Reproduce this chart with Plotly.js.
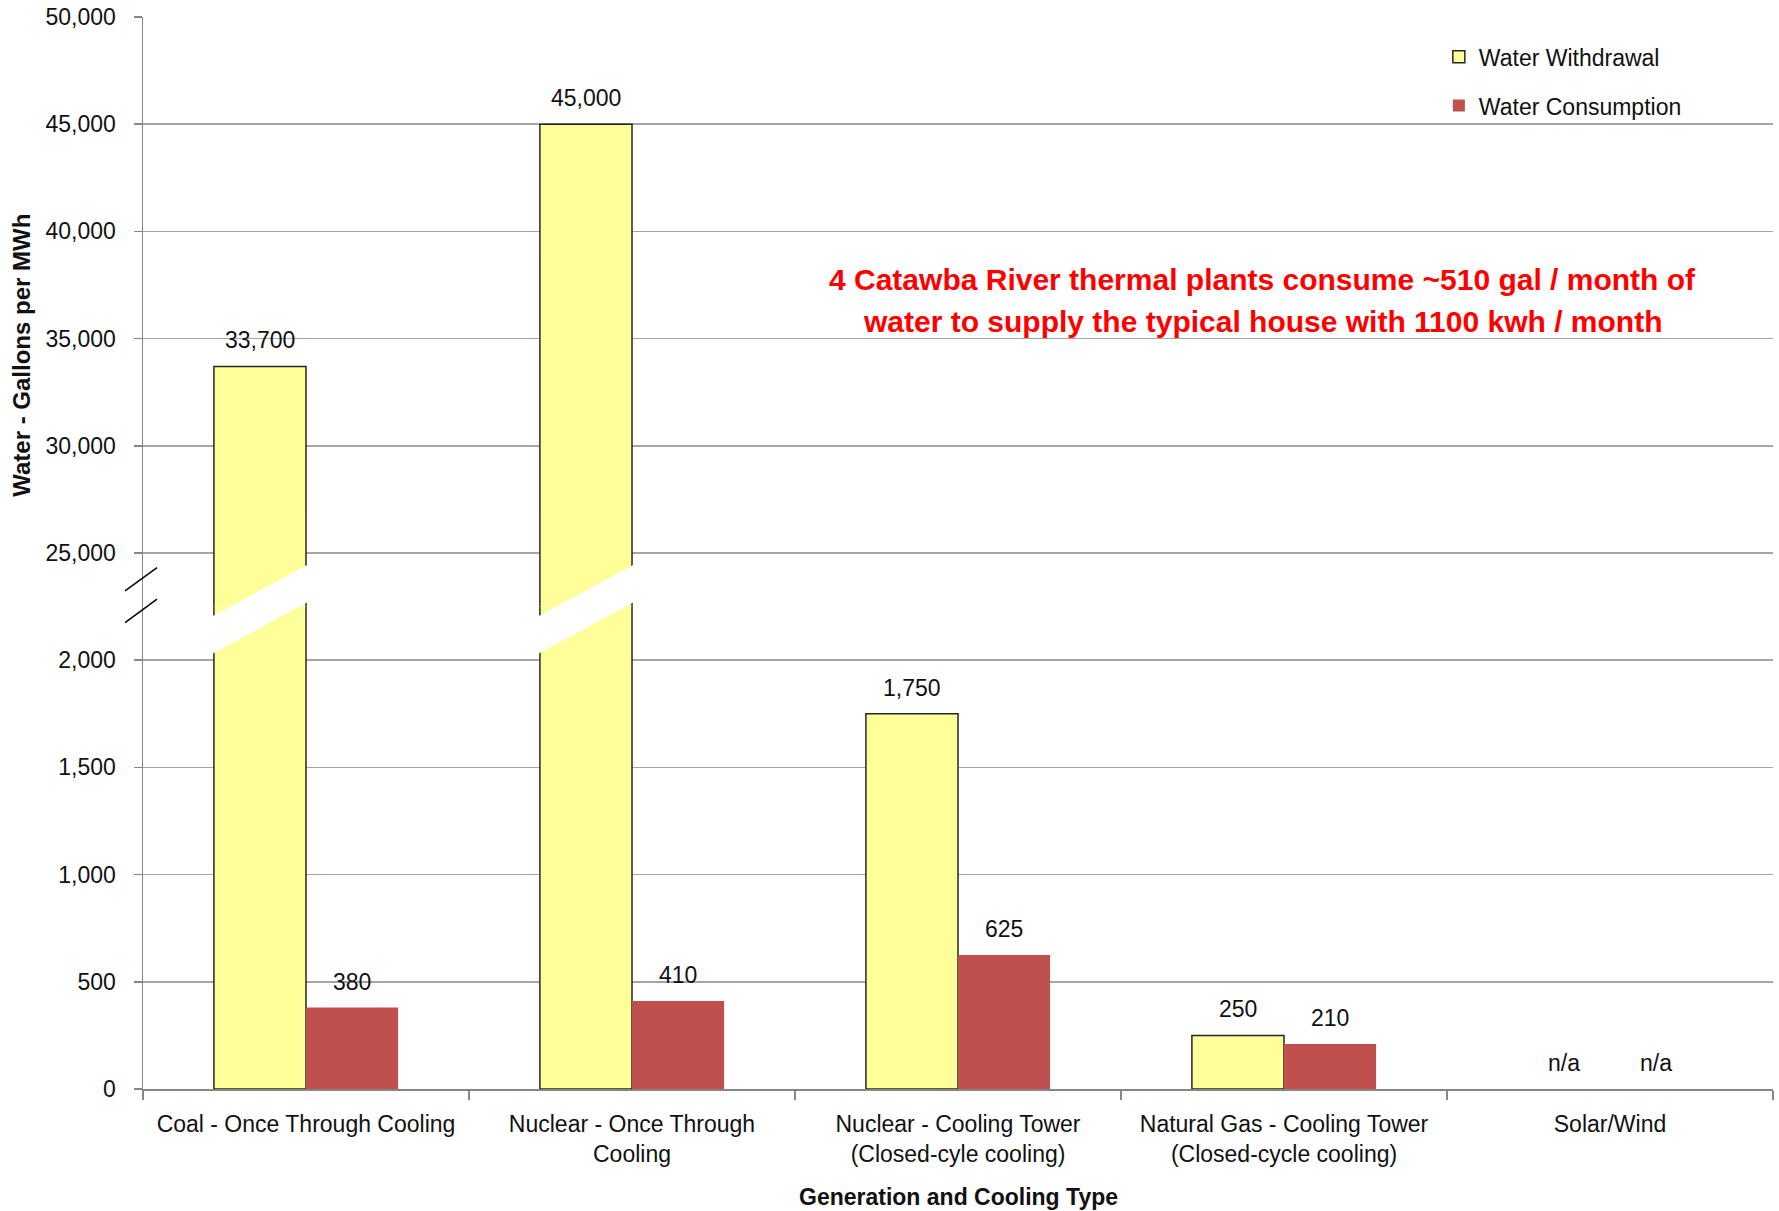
<!DOCTYPE html>
<html><head><meta charset="utf-8">
<script src="https://cdn.plot.ly/plotly-3.0.1.min.js"></script>
<style>html,body{margin:0;padding:0;background:#fff}</style>
</head><body>
<div id="chart" style="width:1779px;height:1211px"></div>
<script>
// ---- data ----
const categories = ['Coal - Once Through Cooling', 'Nuclear - Once Through<br>Cooling', 'Nuclear - Cooling Tower<br>(Closed-cyle cooling)', 'Natural Gas - Cooling Tower<br>(Closed-cycle cooling)', 'Solar/Wind'];
const withdrawal = [33700, 45000, 1750, 250, null];
const consumption = [380, 410, 625, 210, null];
const withdrawalLabels = ['33,700', '45,000', '1,750', '250', 'n/a'];
const consumptionLabels = ['380', '410', '625', '210', 'n/a'];
const lowerTicks = [0, 500, 1000, 1500, 2000];
const upperTicks = [25000, 30000, 35000, 40000, 45000, 50000];
const seriesNames = ['Water Withdrawal', 'Water Consumption'];
const noteLines = ['4 Catawba River thermal plants consume ~510 gal / month of', 'water to supply the typical house with 1100 kwh / month'];
const xTitle = 'Generation and Cooling Type';
const yTitle = 'Water - Gallons per MWh';

// ---- styling / layout constants ----
const FONT = 'Liberation Sans, Arial, sans-serif';
const TXT = '#111111';
const GRID = '#a6a6a6';
const AXIS = '#868686';
const LOWER_RANGE = [0, 2250];
const UPPER_RANGE = [22500, 50000];
const SPLIT = 0.45;
const BARGAP = 0.435;
const W = (1 - BARGAP) / 2;
const NCAT = categories.length;

const wStyle = {color: '#FFFF99', line: {color: '#262626', width: 1.5}};
const cStyle = {color: '#C0504D', line: {color: '#C0504D', width: 0}};

const traces = [];
[['y', true], ['y2', false]].forEach(([ax, show]) => {
  traces.push({type: 'bar', x: categories, y: withdrawal, name: seriesNames[0], xaxis: 'x', yaxis: ax,
    marker: wStyle, showlegend: show, legendgroup: 'w', hoverinfo: 'skip'});
  traces.push({type: 'bar', x: categories, y: consumption, name: seriesNames[1], xaxis: 'x', yaxis: ax,
    marker: cStyle, showlegend: show, legendgroup: 'c', hoverinfo: 'skip'});
});

const annotations = [];
const labelFont = {family: FONT, size: 23, color: TXT};
categories.forEach((c, i) => {
  [[withdrawal, withdrawalLabels, -W / 2], [consumption, consumptionLabels, W / 2]].forEach(([vals, labs, off]) => {
    const v = vals[i] == null ? 0 : vals[i];
    annotations.push({x: i + off, y: v, xref: 'x', yref: v > LOWER_RANGE[1] ? 'y2' : 'y',
      text: labs[i], showarrow: false, xanchor: 'center', yanchor: 'middle', yshift: 26, font: labelFont});
  });
});
annotations.push({x: -0.0742, y: 0.684, xref: 'paper', yref: 'paper', text: '<b>' + yTitle + '</b>',
  textangle: -90, showarrow: false, xanchor: 'center', yanchor: 'middle', font: {family: FONT, size: 24, color: TXT}});
annotations.push({x: 0.5, y: -0.1007, xref: 'paper', yref: 'paper', text: '<b>' + xTitle + '</b>',
  showarrow: false, xanchor: 'center', yanchor: 'middle', font: {family: FONT, size: 23, color: TXT}});
[0.7547, 0.7164].forEach((yy, k) => {
  annotations.push({x: 0.687, y: yy, xref: 'paper', yref: 'paper', text: '<b>' + noteLines[k] + '</b>',
    showarrow: false, xanchor: 'center', yanchor: 'middle', font: {family: FONT, size: 30, color: '#FF0000'}});
});

// axis-break decorations
const shapes = [];
withdrawal.forEach((v, i) => {
  if (v != null && v > LOWER_RANGE[1]) {
    const xl = (i - W + 0.5) / NCAT - 0.0015;
    const xr = (i + 0.5) / NCAT + 0.0015;
    const lc = 0.423, rc = 0.472, h = 0.0175;
    shapes.push({type: 'path', xref: 'paper', yref: 'paper', fillcolor: '#ffffff', line: {width: 0},
      path: `M${xl},${lc - h} L${xr},${rc - h} L${xr},${rc + h} L${xl},${lc + h} Z`});
  }
});
[[0.4646, 0.4863], [0.435, 0.457]].forEach(([y0, y1]) => {
  shapes.push({type: 'line', xref: 'paper', yref: 'paper', x0: -0.011, x1: 0.0086, y0: y0, y1: y1,
    line: {color: '#000000', width: 1.5}});
});

const yCommon = {showgrid: true, gridcolor: GRID, gridwidth: 1.5, showline: true, linecolor: AXIS, linewidth: 1.5,
  ticks: 'outside', ticklen: 8, tickcolor: AXIS, tickwidth: 1.5, tickformat: ',', zeroline: false,
  tickfont: {family: FONT, size: 23, color: TXT}, ticklabelstandoff: 13, fixedrange: true};

const layout = {
  width: 1779, height: 1211,
  margin: {l: 143, r: 6, t: 17, b: 122},
  paper_bgcolor: '#ffffff', plot_bgcolor: '#ffffff',
  barmode: 'group', bargap: BARGAP, bargroupgap: 0,
  font: {family: FONT, color: TXT},
  xaxis: {range: [-0.5, NCAT - 0.5], tickson: 'boundaries', ticks: 'outside', ticklen: 9, tickcolor: AXIS, tickwidth: 1.5,
    showline: true, linecolor: AXIS, linewidth: 1.5, showgrid: false, zeroline: false, anchor: 'y',
    tickfont: {family: FONT, size: 23, color: TXT}, ticklabelstandoff: 14, fixedrange: true},
  yaxis: Object.assign({}, yCommon, {domain: [0, SPLIT], range: LOWER_RANGE, tickvals: lowerTicks, anchor: 'x'}),
  yaxis2: Object.assign({}, yCommon, {domain: [SPLIT, 1], range: UPPER_RANGE, tickvals: upperTicks, anchor: 'x'}),
  legend: {x: 0.795, y: 0.983, xanchor: 'left', yanchor: 'top', bgcolor: 'rgba(0,0,0,0)',
    font: {family: FONT, size: 23, color: TXT}, traceorder: 'grouped', tracegroupgap: 16},
  showlegend: true,
  annotations: annotations,
  shapes: shapes
};

Plotly.newPlot('chart', traces, layout, {displayModeBar: false, staticPlot: true});
</script>
</body></html>
